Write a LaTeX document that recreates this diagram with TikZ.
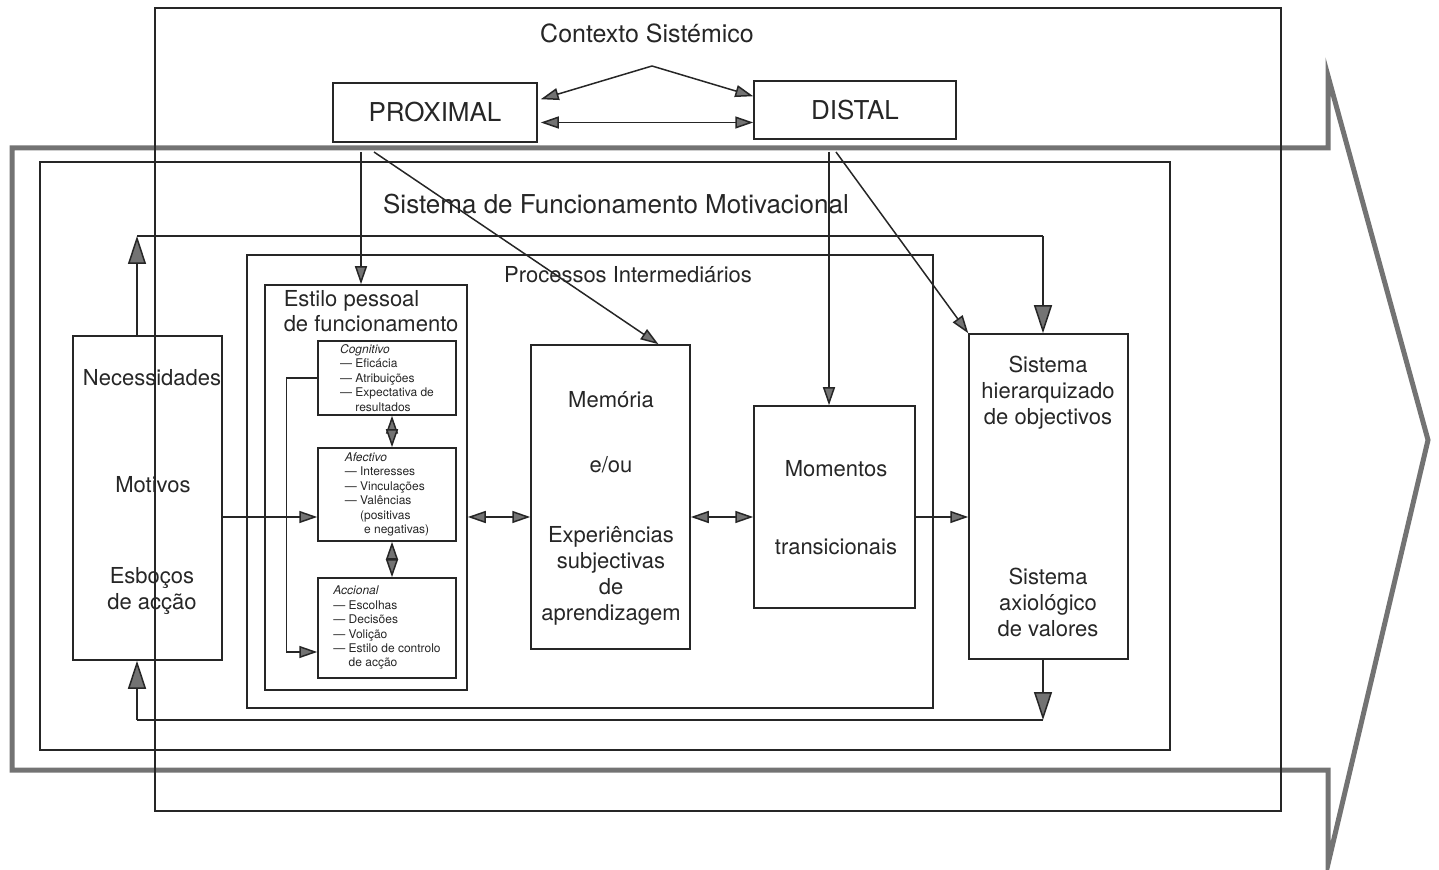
\documentclass[tikz,border=0pt]{standalone}
\usepackage{fontspec}
\setmainfont{TeX Gyre Heros}
\usetikzlibrary{arrows.meta,calc}

\begin{document}
\begin{tikzpicture}[x=0.5pt,y=-0.5pt,line width=0.75pt,color=black!85,
    box/.style={draw, inner sep=0pt, align=center},
    sub/.style={draw, inner sep=0pt, align=left, font=\fontsize{6}{7.2}\selectfont},
    txt/.style={align=center, inner sep=0pt, font=\fontsize{11}{13}\selectfont},
    arr/.style={-{Triangle[length=9pt,width=6pt,fill=black!55]}},
    dbl/.style={{Triangle[length=9pt,width=6pt,fill=black!55]}-{Triangle[length=9pt,width=6pt,fill=black!55]}},
    loop/.style={-{Triangle[length=14pt,width=9pt,fill=black!55]}}]

  \useasboundingbox (0,0) rectangle (1439,870);

    %the broad grey arrow that holds the whole model
  \draw[black!55, line width=2.5pt] (12,148) -- (1328,148) -- (1328,76) -- (1428,440)
        -- (1328,864) -- (1328,770) -- (12,770) -- cycle;

    %systemic context: outer frame, proximal and distal
  \draw (155,8) rectangle (1281,811);
  \node[txt, font=\fontsize{12.5}{15}\selectfont] (ctxlbl) at (647,33) {Contexto Sistémico};
  \node[box, minimum width=102pt, minimum height=29.5pt, font=\fontsize{13}{15}\selectfont]
        (prox) at (435,112.5) {PROXIMAL};
  \node[box, minimum width=101pt, minimum height=29pt, font=\fontsize{13}{15}\selectfont]
        (dist) at (855,110) {DISTAL};
  \coordinate (apex) at (652,66);
  \coordinate (pe) at ($(prox.east)+(3,10)$);
  \draw[arr] (apex) -- ($(prox.north east)+(3,17)$);
  \draw[arr] (apex) -- ($(dist.north west)+(0,16)$);
  \draw[dbl] (pe) -- (pe -| dist.west);

    %motivational system and intermediate processes
  \draw (40,162) rectangle (1170,750);
  \node[txt, font=\fontsize{13}{15}\selectfont] (sfmlbl) at (616,204)
        {Sistema de Funcionamento Motivacional};
  \draw (247,255) rectangle (933,708);
  \node[txt] (proclbl) at (628,275) {Processos Intermediários};

    %personal style with its three parts
  \node[box, minimum width=101pt, minimum height=202.5pt] (estilo) at (366,487.5) {};
  \node[txt, align=left, anchor=north west, font=\fontsize{11}{12.5}\selectfont]
        (estilotxt) at (283,290) {Estilo pessoal\\de funcionamento};
  \node[sub, minimum width=69pt, minimum height=37pt] (cog) at (387,378)
        {\textit{Cognitivo}\\--- Eficácia\\--- Atribuições\\--- Expectativa de\\\hphantom{--- }resultados};
  \node[sub, minimum width=69pt, minimum height=46.5pt] (afe) at (387,494.5)
        {\textit{Afectivo}\\--- Interesses\\--- Vinculações\\--- Valências\\\hphantom{--- }(positivas\\\hphantom{--- (}e negativas)};
  \node[sub, minimum width=69pt, minimum height=50pt] (acc) at (387,628)
        {\textit{Accional}\\--- Escolhas\\--- Decisões\\--- Volição\\--- Estilo de controlo\\\hphantom{--- }de acção};

    %the big boxes and their texts
  \node[box, minimum width=74.5pt, minimum height=162pt] (nec) at (147.5,498) {};
  \node[txt] (necA) at (152,378) {Necessidades};
  \node[txt] (necB) at (153,485) {Motivos};
  \node[txt] (necC) at (152,591) {Esboços\\de acção};
  \node[box, minimum width=79.5pt, minimum height=152pt] (mem) at (610.5,497) {};
  \node[txt] (memA) at (611,400) {Memória};
  \node[txt] (memB) at (611,465) {e/ou};
  \node[txt] (memC) at (611,576) {Experiências\\subjectivas\\de\\aprendizagem};
  \node[box, minimum width=80.5pt, minimum height=101pt] (mom) at (834.5,507) {};
  \node[txt] (momA) at (836,469) {Momentos};
  \node[txt] (momB) at (836,547) {transicionais};
  \node[box, minimum width=79.5pt, minimum height=162.5pt] (sis) at (1048.5,496.5) {};
  \node[txt] (sisA) at (1048,393) {Sistema\\hierarquizado\\de objectivos};
  \node[txt] (sisB) at (1048,602) {Sistema\\axiológico\\de valores};

    %horizontal flow
  \coordinate (row) at (0,517);
  \draw[arr] (nec.east |- row) -- (afe.west |- row);
  \draw[dbl] (estilo.east |- row) -- (mem.west |- row);
  \draw[dbl] (mem.east |- row) -- (mom.west |- row);
  \draw[arr] (mom.east |- row) -- (sis.west |- row);
  \draw[dbl] ([xshift=2.5pt]cog.south) -- ([xshift=2.5pt]afe.north);
  \draw[dbl] ([xshift=2.5pt]afe.south) -- ([xshift=2.5pt]acc.north);
  \draw[arr] (cog.west) -- ++(-31,0) |- ([yshift=-12pt]acc.west);

    %links down from the context
  \coordinate (p1) at (361,152);
  \coordinate (p2) at (374,152);
  \coordinate (d1) at (829,152);
  \coordinate (d2) at (836,152);
  \draw[arr] (p1) -- (p1 |- estilo.north);
  \draw[arr] (p2) -- ($(mem.north)+(48,0)$);
  \draw[arr] (d1) -- (d1 |- mom.north);
  \draw[arr] (d2) -- (sis.north west);

    %feedback loops above and below
  \coordinate (lt) at (137,236);
  \coordinate (rt) at (1043,236);
  \coordinate (lb) at (137,720);
  \coordinate (rb) at (1043,720);
  \draw[loop] (lt |- nec.north) -- (lt);
  \draw (lt) -- (rt);
  \draw[loop] (rt) -- (rt |- sis.north);
  \draw[loop] (rt |- sis.south) -- (rb);
  \draw (rb) -- (lb);
  \draw[loop] (lb) -- (lb |- nec.south);
\end{tikzpicture}
\end{document}
